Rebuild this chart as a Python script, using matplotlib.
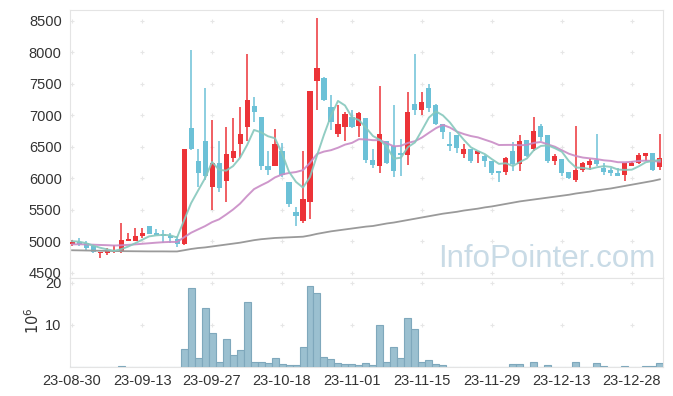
import numpy as np
import pandas as pd
import matplotlib
matplotlib.use("Agg")
import matplotlib.pyplot as plt

plt.rcParams['font.family'] = ['Liberation Sans', 'DejaVu Sans']

# x axis labels (trading-day index -> date)
tick_idx = [0, 10, 20, 30, 40, 50, 60, 70, 80]
tick_labels = ["23-08-30", "23-09-13", "23-09-27", "23-10-18", "23-11-01",
               "23-11-15", "23-11-29", "23-12-13", "23-12-28"]

opens = [4960, 4990, 4970, 4920, 4810, 4810, 4830, 4830, 5010, 5000,
         5080, 5240, 5130, 5120, 5080, 5040, 4960, 6800, 6280, 6600,
         5870, 6240, 5960, 6320, 6540, 6810, 7140, 6980, 6190, 6190,
         6440, 5940, 5460, 5320, 5630, 7540, 7590, 7130, 6710, 6810,
         6980, 6830, 6950, 6290, 6190, 6600, 6520, 6400, 6370, 7180,
         7080, 7430, 7170, 6870, 6550, 6680, 6380, 6460, 6380, 6360,
         6280, 6110, 6100, 6430, 6220, 6610, 6460, 6830, 6690, 6270,
         6300, 6100, 5970, 6140, 6210, 6290, 6170, 6130, 6090, 6060,
         6190, 6240, 6350, 6400, 6180]
closes = [4990, 4960, 4890, 4830, 4830, 4860, 4840, 5020, 5040, 5090,
          5140, 5110, 5100, 5080, 5060, 4960, 6470, 6460, 6080, 6040,
          6250, 5850, 6390, 6440, 6700, 7250, 7060, 6200, 6130, 6540,
          6050, 5600, 5400, 5680, 7380, 7750, 7250, 6900, 6860, 7020,
          6810, 7030, 6290, 6210, 6710, 6240, 6110, 6370, 7050, 7080,
          7210, 7110, 6860, 6730, 6520, 6480, 6460, 6270, 6440, 6270,
          6080, 6090, 6320, 6220, 6590, 6360, 6750, 6650, 6270, 6360,
          6080, 6010, 6140, 6240, 6270, 6220, 6100, 6080, 6030, 6240,
          6240, 6370, 6400, 6130, 6320]
highs = [5030, 5060, 5000, 4940, 4830, 4900, 4950, 5300, 5130, 5210,
         5220, 5250, 5200, 5180, 5130, 5080, 6470, 8040, 6470, 7440,
         6930, 6590, 6810, 6950, 7130, 7970, 7290, 6980, 6430, 6780,
         6560, 5940, 5540, 6440, 7380, 8540, 7600, 7320, 7160, 7050,
         7080, 7050, 6950, 6460, 7470, 6600, 7160, 6630, 7370, 7980,
         7370, 7490, 7180, 6870, 6730, 6680, 6540, 6460, 6440, 6370,
         6280, 6110, 6340, 6570, 6680, 6610, 6970, 6870, 6690, 6380,
         6300, 6100, 6830, 6260, 6300, 6710, 6240, 6170, 6160, 6240,
         6270, 6400, 6410, 6410, 6700]
lows = [4930, 4930, 4870, 4820, 4740, 4790, 4820, 4820, 5000, 5000,
        5060, 5110, 5100, 4970, 4980, 4910, 4950, 6450, 5860, 5980,
        5500, 5780, 5630, 6260, 6330, 6600, 6900, 6140, 6050, 6190,
        6020, 5540, 5250, 5300, 5350, 7080, 7230, 6760, 6660, 6600,
        6800, 6660, 6250, 6170, 6080, 6220, 6020, 6030, 6210, 7000,
        7010, 7050, 6850, 6620, 6430, 6400, 6330, 6250, 6240, 6180,
        6060, 5950, 6060, 6110, 6110, 6340, 6440, 6600, 6240, 6210,
        6040, 5990, 5940, 6100, 6130, 6200, 6050, 6040, 6030, 5960,
        6190, 6220, 6280, 6110, 6130]
# volume in millions of shares
volumes = [0.05, 0.03, 0.03, 0.03, 0.02, 0.03, 0.03, 0.25, 0.03, 0.03,
           0.02, 0.03, 0.02, 0.02, 0.02, 0.03, 4.2, 18.7, 2.1, 13.9,
           8.0, 1.1, 6.6, 2.8, 4.0, 15.3, 1.3, 1.1, 0.9, 2.1,
           0.6, 0.4, 0.4, 4.7, 19.1, 17.5, 2.3, 1.8, 0.9, 0.8,
           0.6, 0.4, 0.9, 0.4, 9.9, 1.1, 4.7, 2.1, 11.5, 8.9,
           1.3, 1.6, 0.8, 0.4, 0.1, 0.1, 0.1, 0.1, 0.1, 0.1,
           0.1, 0.1, 0.1, 0.6, 0.6, 0.1, 1.3, 0.1, 0.4, 0.1,
           0.1, 0.1, 1.3, 0.1, 0.05, 0.9, 0.15, 0.05, 0.05, 0.15,
           0.05, 0.05, 0.15, 0.15, 0.9]
# closes before the window, only used to warm up the moving averages
prev_close = [4930, 4940, 4920, 4910, 4930, 4950, 4940, 4920, 4930, 4950,
              4940, 4920, 4930, 4960, 4980, 5000, 5010, 5020, 5000]
# long moving average
ma_long = [4860, 4858, 4856, 4854, 4852, 4850, 4848, 4846, 4845, 4844,
           4843, 4842, 4842, 4842, 4841, 4841, 4860, 4880, 4895, 4905,
           4920, 4935, 4950, 4965, 4980, 5000, 5020, 5035, 5045, 5055,
           5060, 5065, 5070, 5075, 5095, 5120, 5140, 5160, 5175, 5190,
           5205, 5220, 5235, 5245, 5265, 5285, 5300, 5320, 5340, 5360,
           5380, 5400, 5420, 5440, 5455, 5470, 5490, 5505, 5520, 5540,
           5555, 5575, 5595, 5615, 5635, 5650, 5665, 5680, 5695, 5710,
           5725, 5740, 5760, 5775, 5790, 5810, 5825, 5840, 5860, 5880,
           5900, 5920, 5940, 5960, 5985]

RED = "#ec3338"
BLUE = "#6cc1d7"
TXT = "#333333"
EDGE = "#e4e4e4"

o = np.array(opens)
c = np.array(closes)
h = np.array(highs)
l = np.array(lows)
x = np.arange(len(o))

allc = pd.Series(prev_close + closes)
ma5 = allc.rolling(5).mean().values[len(prev_close):]
ma20 = allc.rolling(20).mean().values[len(prev_close):]

fig = plt.figure(figsize=(6.73, 3.96), dpi=100)
ax = fig.add_axes([70/673, 118/396, 593/673, 268/396])
axv = fig.add_axes([70/673, 29/396, 593/673, 89/396], sharex=ax)

col = np.where(c >= o, RED, BLUE)
ax.vlines(x, l, h, colors=col, lw=1.1, zorder=2)
body = np.maximum(np.abs(c - o), 25)
ax.bar(x, body, bottom=np.minimum(o, c), width=0.72, color=col, zorder=3)

ax.plot(x, ma_long, color="#9a9a9a", lw=1.3, zorder=4)
ax.plot(x, ma20, color="#c98cc6", lw=1.4, alpha=0.9, zorder=4)
ax.plot(x, ma5, color="#86c8bd", lw=1.4, alpha=0.9, zorder=4)

ax.set_xlim(-0.3, 84.45)
ax.set_ylim(4420, 8670)
yt = [4500, 5000, 5500, 6000, 6500, 7000, 7500, 8000, 8500]
ax.set_yticks(yt)
gx, gy = np.meshgrid(tick_idx, yt)
ax.plot(gx.ravel(), gy.ravel(), "+", color="#e6e6e6", ms=3.5, mew=0.8, zorder=1)

fig.text(438/673, 1 - 267/396, "InfoPointer.com", color="#c9dbe6",
         fontsize=22.5, ha="left", va="baseline")

# volume panel
axv.bar(x, volumes, width=1.0, color="#9bc0d0", edgecolor="#7fa8bc", lw=0.8, zorder=3)
axv.set_ylim(0, 21.1)
vt = [10, 20]
axv.set_yticks(vt)
gx, gy = np.meshgrid(tick_idx, vt)
axv.plot(gx.ravel(), gy.ravel(), "+", color="#e6e6e6", ms=3.5, mew=0.8, zorder=1)
axv.set_xticks(tick_idx)
axv.set_xticklabels(tick_labels)
fig.text(33/673, 1 - 321/396, r"$10^6$", rotation=90, color=TXT,
         fontsize=10.5, ha="center", va="center")

for a in (ax, axv):
    for s in a.spines.values():
        s.set_color(EDGE)
    a.tick_params(length=0, labelsize=10.5, colors=TXT, pad=6)
ax.tick_params(labelbottom=False)
axv.tick_params(axis="x", pad=5)

fig.savefig("out.png", dpi=100)
